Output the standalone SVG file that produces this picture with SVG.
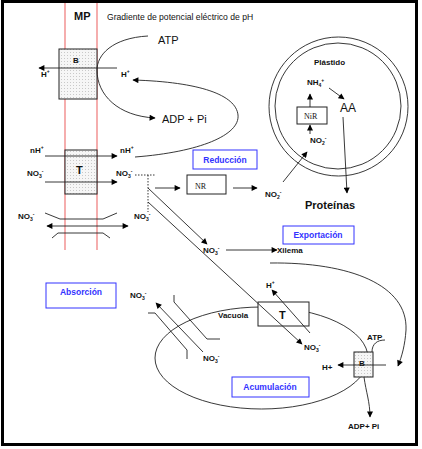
<svg xmlns="http://www.w3.org/2000/svg" width="422" height="449" viewBox="0 0 422 449">
<defs>
<pattern id="dots" width="3" height="3" patternUnits="userSpaceOnUse">
<rect width="3" height="3" fill="#f6f6f6"/>
<rect x="1" y="1" width="0.8" height="0.8" fill="#b0b0b0"/>
</pattern>
<marker id="ah" viewBox="0 0 10 10" refX="9" refY="5" markerWidth="7" markerHeight="6" markerUnits="userSpaceOnUse" orient="auto-start-reverse">
<path d="M0,0 L10,5 L0,10 z" fill="#000"/>
</marker>
</defs>
<style>
.ln{fill:none;stroke:#222;stroke-width:0.9}
.mem{stroke:#ee7777;stroke-width:1.2;fill:none}
.bx{fill:url(#dots);stroke:#222;stroke-width:1}
.wb{fill:#fff;stroke:#222;stroke-width:1}
.lb{fill:#fff;stroke:#3333ff;stroke-width:1}
.t{font-family:"Liberation Sans",Arial,sans-serif;fill:#111}
.s{font-size:8px;font-weight:bold}
.m{font-size:11px}
.bl{font-family:"Liberation Sans",Arial,sans-serif;font-size:8.5px;font-weight:bold;fill:#3333ff;text-anchor:middle}
.sr{font-family:"Liberation Serif","Times New Roman",serif;font-size:8px;fill:#111}
.sm{font-size:5px}
</style>
<rect x="2.5" y="1.5" width="414" height="443" fill="#fff" stroke="#000" stroke-width="3"/>
<g id="membrane">
<line class="mem" x1="65" y1="3" x2="65" y2="250"/>
<line class="mem" x1="97" y1="3" x2="97" y2="250"/>
<text class="t" x="74" y="20" font-size="11" font-weight="bold">MP</text>
<text class="t" x="107" y="20" font-size="8.6">Gradiente de potencial eléctrico de pH</text>
</g>
<g id="plastido">
<circle cx="338.5" cy="106.5" r="69.5" fill="none" stroke="#222" stroke-width="0.9"/>
<circle cx="338" cy="106" r="63" fill="none" stroke="#222" stroke-width="0.9"/>
<text class="t s" x="314" y="65">Plástido</text>
<text class="t s" x="307" y="85">NH<tspan class="sm" dy="2">4</tspan><tspan class="sm" dy="-5">+</tspan></text>
<text class="t" x="340" y="112" font-size="12">AA</text>
<text class="t s" x="310" y="143">NO<tspan class="sm" dy="2">2</tspan><tspan class="sm" dy="-5">-</tspan></text>
</g>
<g id="NiR">
<rect class="wb" x="297" y="107" width="30" height="17"/>
<text class="sr" x="304" y="119">NiR</text>
</g>
<g id="B1">
<rect class="bx" x="59" y="49" width="38" height="50"/>
<text class="t s" x="73" y="63">B</text>
<text class="t s" x="41" y="77">H<tspan class="sm" dy="-4">+</tspan></text>
<text class="t s" x="121" y="77">H<tspan class="sm" dy="-4">+</tspan></text>
<text class="t m" x="158" y="44">ATP</text>
<text class="t m" x="162" y="123">ADP + Pi</text>
</g>
<g id="T1">
<rect class="bx" x="65" y="150" width="32" height="44"/>
<text class="t" x="76" y="174" font-size="11" font-weight="bold">T</text>
<text class="t s" x="30" y="153">nH<tspan class="sm" dy="-4">+</tspan></text>
<text class="t s" x="120" y="153">nH<tspan class="sm" dy="-4">+</tspan></text>
<text class="t s" x="27" y="176">NO<tspan class="sm" dy="2">3</tspan><tspan class="sm" dy="-5">-</tspan></text>
<text class="t s" x="116" y="176">NO<tspan class="sm" dy="2">3</tspan><tspan class="sm" dy="-5">-</tspan></text>
<text class="t s" x="18" y="219">NO<tspan class="sm" dy="2">3</tspan><tspan class="sm" dy="-5">-</tspan></text>
<text class="t s" x="134" y="219">NO<tspan class="sm" dy="2">3</tspan><tspan class="sm" dy="-5">-</tspan></text>
</g>
<g id="NR">
<rect class="wb" x="187" y="175" width="39" height="19"/>
<text class="sr" x="195" y="189">NR</text>
<text class="t s" x="265" y="197">NO<tspan class="sm" dy="2">2</tspan><tspan class="sm" dy="-5">-</tspan></text>
<text class="t" x="305" y="209" font-size="11" font-weight="bold">Proteínas</text>
</g>
<g id="reduccion">
<rect class="lb" x="193" y="150" width="64" height="19"/>
<text class="bl" x="225" y="163">Reducción</text>
</g>
<g id="exportacion">
<rect class="lb" x="283" y="226" width="71" height="18"/>
<text class="bl" x="318" y="238">Exportación</text>
<text class="t s" x="203" y="253">NO<tspan class="sm" dy="2">3</tspan><tspan class="sm" dy="-5">-</tspan></text>
<text class="t s" x="277" y="253">Xilema</text>
</g>
<g id="absorcion">
<rect class="lb" x="46" y="283" width="70" height="25"/>
<text class="bl" x="81" y="295">Absorción</text>
<text class="t s" x="130" y="298">NO<tspan class="sm" dy="2">3</tspan><tspan class="sm" dy="-5">-</tspan></text>
<text class="t s" x="203" y="361">NO<tspan class="sm" dy="2">3</tspan><tspan class="sm" dy="-5">-</tspan></text>
</g>
<g id="vacuola">
<ellipse cx="261.5" cy="358" rx="106.5" ry="51" fill="none" stroke="#222" stroke-width="0.9"/>
<text class="t s" x="218" y="318">Vacuola</text>
</g>
<g id="T2">
<rect class="wb" x="258" y="302" width="51" height="24"/>
<text class="t" x="279" y="319" font-size="11" font-weight="bold">T</text>
<text class="t s" x="266" y="288">H<tspan class="sm" dy="-4">+</tspan></text>
<text class="t s" x="304" y="350">NO<tspan class="sm" dy="2">3</tspan><tspan class="sm" dy="-5">-</tspan></text>
</g>
<g id="acumulacion">
<rect class="lb" x="232" y="377" width="77" height="20"/>
<text class="bl" x="270" y="390">Acumulación</text>
</g>
<g id="B2">
<rect class="bx" x="354" y="352" width="19" height="25"/>
<text class="t s" x="359" y="366">B</text>
<text class="t s" x="322" y="370">H+</text>
<text class="t s" x="367" y="340">ATP</text>
<text class="t s" x="348" y="429">ADP+ Pi</text>
</g>
<g id="connectors">
<line class="ln" x1="117" y1="68" x2="39" y2="68" marker-end="url(#ah)"/>
<path class="ln" d="M148,36 C112,38 97,55 97,70 C97,95 118,116 155,118" marker-end="url(#ah)"/>
<path class="ln" d="M135,157 C200,152 240,135 238,115 C236,95 200,82 133,80" marker-end="url(#ah)"/>
<line class="ln" x1="45" y1="156" x2="117" y2="156" marker-end="url(#ah)"/>
<line class="ln" x1="45" y1="182" x2="117" y2="182" marker-end="url(#ah)"/>
<line class="ln" x1="47" y1="226" x2="128" y2="226" marker-start="url(#ah)" marker-end="url(#ah)"/>
<polyline class="ln" points="45,213 60,219 103,219 117,213"/>
<polyline class="ln" points="52,238 58,233 103,233 110,238"/>
<path class="ln" d="M135,175 H155 M148,175 V212" stroke-dasharray="1.5,1.5"/>
<line class="ln" x1="155" y1="188" x2="180" y2="188" marker-end="url(#ah)"/>
<line class="ln" x1="233" y1="188" x2="257" y2="188" marker-end="url(#ah)"/>
<line class="ln" x1="148" y1="188" x2="207" y2="244" marker-end="url(#ah)"/>
<line class="ln" x1="148" y1="202" x2="302" y2="344" marker-end="url(#ah)"/>
<line class="ln" x1="226" y1="250" x2="277" y2="250" marker-end="url(#ah)"/>
<line class="ln" x1="283" y1="182" x2="307" y2="152" marker-end="url(#ah)"/>
<line class="ln" x1="329" y1="88" x2="344" y2="99" marker-end="url(#ah)"/>
<line class="ln" x1="310" y1="107" x2="310" y2="94" marker-end="url(#ah)"/>
<line class="ln" x1="310" y1="134" x2="310" y2="125" marker-end="url(#ah)"/>
<line class="ln" x1="343" y1="117" x2="347" y2="193" marker-end="url(#ah)"/>
<path class="ln" d="M270,263 C350,262 408,285 406,330 C405,345 402,356 398,366" marker-end="url(#ah)"/>
<line class="ln" x1="203" y1="352" x2="156" y2="303" marker-end="url(#ah)"/>
<polyline class="ln" points="148,313 155,313 187,350 187,359"/>
<polyline class="ln" points="174,295 174,302 207,339 220,339"/>
<line class="ln" x1="310" y1="333" x2="272" y2="290" marker-end="url(#ah)"/>
<line class="ln" x1="386" y1="365" x2="338" y2="365" marker-end="url(#ah)"/>
<path class="ln" d="M372,352 C372,344 377,340 385,340"/>
<path class="ln" d="M364,377 C366,392 370,402 370,417" marker-end="url(#ah)"/>
</g>
</svg>
